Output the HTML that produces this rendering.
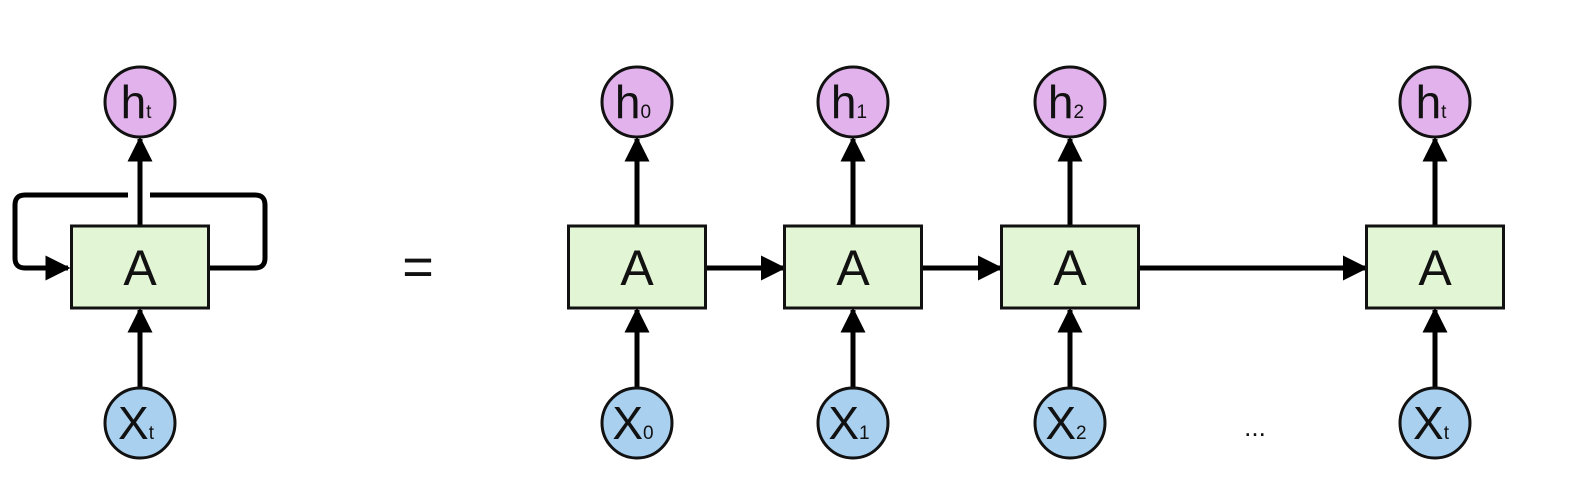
<!DOCTYPE html>
<html><head><meta charset="utf-8"><style>
html,body{margin:0;padding:0;background:#fff;}
svg{display:block;}
text{font-family:"Liberation Sans","DejaVu Sans",sans-serif;fill:#111;}
</style></head><body>
<svg id="d" width="1581" height="502" viewBox="0 0 1581 502">
<defs><marker id="ah" viewBox="0 0 10 10" refX="9" refY="5" markerWidth="5" markerHeight="5" orient="auto-start-reverse" markerUnits="strokeWidth"><path d="M0,0 L10,5 L0,10 z" fill="#000"/></marker></defs>
</svg>
<script>
const steps=['0','1','2','t'];
const centers=[637,853,1070,1435];
const NS='http://www.w3.org/2000/svg';
const svg=document.getElementById('d');
function mk(tag,attrs,parent){const e=document.createElementNS(NS,tag);for(const k in attrs)e.setAttribute(k,attrs[k]);(parent||svg).appendChild(e);return e;}
const BW=137,BT=226,BB=308,HY=102,XY=423,R=35;
function unit(cx,sub,name){
  const g=mk('g',{});
  
  
  const a1=mk('line',{x1:cx,y1:XY-R,x2:cx,y2:BB+2,stroke:'#000','stroke-width':5,'marker-end':'url(#ah)'},g);
  
  
  const a2=mk('line',{x1:cx,y1:BT,x2:cx,y2:HY+R+2,stroke:'#000','stroke-width':5,'marker-end':'url(#ah)'},g);
  
  
  const b=mk('rect',{x:cx-BW/2,y:BT,width:BW,height:BB-BT,fill:'#e2f5d4',stroke:'#111','stroke-width':3},g);
  
  
  const t=mk('text',{x:cx,y:285,'font-size':50,'text-anchor':'middle'},g);t.textContent='A';
  
  
  const h=mk('circle',{cx:cx,cy:HY,r:R,fill:'#e2b2ec',stroke:'#111','stroke-width':3},g);
  
  
  const ht=mk('text',{x:cx-4,y:HY+16,'font-size':46,'text-anchor':'middle'},g);
  ht.innerHTML='h<tspan font-size="19">'+sub+'</tspan>';
  
  
  const x=mk('circle',{cx:cx,cy:XY,r:R,fill:'#a9d1ef',stroke:'#111','stroke-width':3},g);
  
  
  const xt=mk('text',{x:cx-4,y:XY+16,'font-size':46,'text-anchor':'middle'},g);
  xt.innerHTML='X<tspan font-size="19">'+sub+'</tspan>';
  
  
}
const loop=mk('path',{d:'M128,195 L25,195 Q15,195 15,205 L15,258 Q15,268 25,268 L68,268',fill:'none',stroke:'#000','stroke-width':5,'marker-end':'url(#ah)'});


const loop2=mk('path',{d:'M208,268 L255,268 Q265,268 265,258 L265,205 Q265,195 255,195 L150,195',fill:'none',stroke:'#000','stroke-width':5});


unit(140,'t','folded-cell');
for(let i=0;i<centers.length-1;i++){
  const l=mk('line',{x1:centers[i]+BW/2,y1:268,x2:centers[i+1]-BW/2-1,y2:268,stroke:'#000','stroke-width':5,'marker-end':'url(#ah)'});
  
  
}
steps.forEach((s,i)=>unit(centers[i],s,'unrolled-cell-'+s));
const eq=mk('text',{x:418,y:285,'font-size':54,'text-anchor':'middle'});eq.textContent='=';


const dots=mk('text',{x:1255,y:436,'font-size':26,'text-anchor':'middle'});dots.textContent='...';


</script>
</body></html>
